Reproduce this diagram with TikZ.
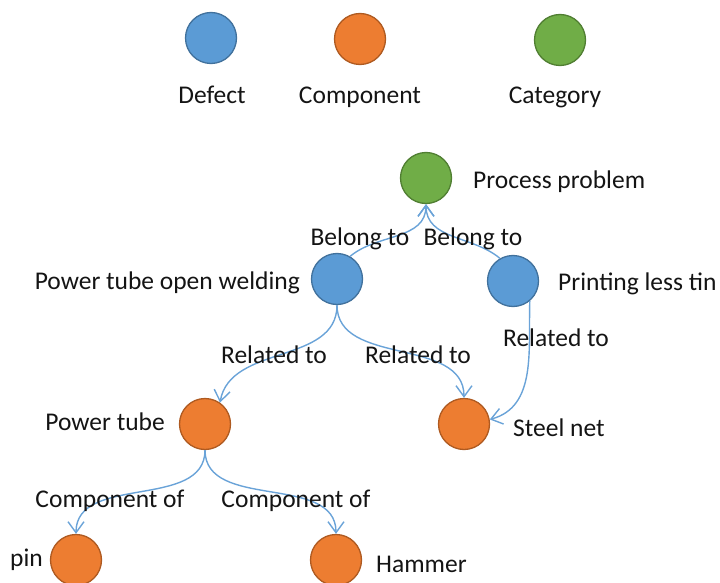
\documentclass[tikz,border=0pt]{standalone}
\usepackage{fontspec}
\setmainfont{Carlito}
\usetikzlibrary{arrows.meta}
\definecolor{defectblue}{HTML}{5B9BD5}
\definecolor{defectline}{HTML}{41719C}
\definecolor{partorange}{HTML}{ED7D31}
\definecolor{partline}{HTML}{AE5A21}
\definecolor{catgreen}{HTML}{70AD47}
\definecolor{catline}{HTML}{507E32}
\definecolor{linkblue}{HTML}{6AA3D8}
\definecolor{labeltext}{HTML}{141414}
\begin{document}
\begin{tikzpicture}[x=1pt,y=-1pt,
  dot/.style={circle,minimum size=51pt,inner sep=0pt,line width=1.3pt},
  defect/.style={dot,fill=defectblue,draw=defectline},
  part/.style={dot,fill=partorange,draw=partline},
  cat/.style={dot,fill=catgreen,draw=catline},
  txt/.style={inner sep=0pt,text=labeltext,font=\fontsize{25.5}{30}\selectfont},
  link/.style={draw=linkblue,line width=1.4pt,-{Straight Barb[length=11pt,width=16pt]}}]
\useasboundingbox (0,0) rectangle (720,583);
% Legend
\node[defect] (keydefect) at (211,38) {};
\node[part] (keypart) at (360,39) {};
\node[cat] (keycat) at (560,40) {};
\node[txt,anchor=base] (keydefecttxt) at (212,104) {Defect};
\node[txt,anchor=base] (keyparttxt) at (360,104) {Component};
\node[txt,anchor=base] (keycattxt) at (555,104) {Category};
% Graph nodes
\node[cat] (proc) at (426,178) {};
\node[defect] (ptow) at (337,279) {};
\node[defect] (plt) at (513,281) {};
\node[part] (ptube) at (205,424) {};
\node[part] (steel) at (464,424) {};
\node[part] (pin) at (76,560) {};
\node[part] (hammer) at (336,560) {};
% Node names
\node[txt,anchor=base west] (proctxt) at (473,188) {Process problem};
\node[txt,anchor=base east] (ptowtxt) at (300,289) {Power tube open welding};
\node[txt,anchor=base west] (plttxt) at (558,290) {Printing less tin};
\node[txt,anchor=base east] (ptubetxt) at (165,430) {Power tube};
\node[txt,anchor=base west] (steeltxt) at (513,436) {Steel net};
\node[txt,anchor=base east] (pintxt) at (43,566) {pin};
\node[txt,anchor=base west] (hammertxt) at (376,572) {Hammer};
% Links
\draw[link] (ptow.60) to[out=40,in=-90] (proc.south);
\draw[link] (plt.120) to[out=140,in=-90] (proc.south);
\draw[link] (ptow.south) to[out=-90,in=80] (ptube.55);
\draw[link] (ptow.south) to[out=-90,in=90] (steel.north);
\draw[link] (plt.-50) to[out=-92,in=15] (steel.10);
\draw[link] (ptube.south) to[out=-90,in=90] (pin.north);
\draw[link] (ptube.south) to[out=-90,in=90] (hammer.north);
% Link labels
\node[txt,anchor=base] (belongl) at (360,245) {Belong to};
\node[txt,anchor=base] (belongr) at (473,245) {Belong to};
\node[txt,anchor=base] (relatedl) at (274,363) {Related to};
\node[txt,anchor=base] (relatedm) at (418,363) {Related to};
\node[txt,anchor=base] (relatedr) at (556,346) {Related to};
\node[txt,anchor=base] (compl) at (110,507) {Component of};
\node[txt,anchor=base] (compr) at (296,507) {Component of};
\end{tikzpicture}
\end{document}
